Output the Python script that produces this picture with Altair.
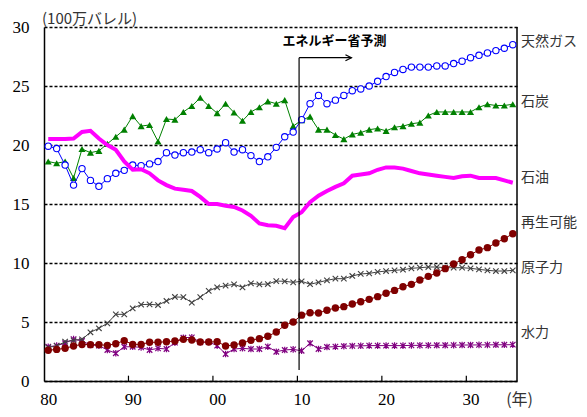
import altair as alt
import pandas as pd

years = list(range(1980, 2036))

gas = [19.9, 19.7, 18.3, 16.6, 18.0, 17.0, 16.5, 17.15, 17.6, 17.85,
       18.3, 18.25, 18.4, 18.6, 19.35, 19.15, 19.35, 19.4, 19.6, 19.35,
       19.66, 20.2, 19.4, 19.6, 19.1, 18.6, 19.0, 19.8, 20.7, 21.1,
       22.15, 23.5, 24.2, 23.5, 23.8, 24.2, 24.6, 24.75, 25.0, 25.4,
       25.8, 26.15, 26.4, 26.6, 26.6, 26.6, 26.7, 26.7, 26.9, 27.1,
       27.4, 27.6, 27.8, 28.0, 28.2, 28.5]
coal = [18.6, 18.45, 18.6, 17.2, 19.66, 19.35, 19.5, 20.1, 20.7, 21.3,
        22.45, 21.6, 21.7, 20.3, 22.2, 22.15, 22.8, 23.3, 24.0, 23.3,
        22.7, 23.5, 22.75, 22.05, 22.8, 23.2, 23.7, 23.5, 23.8, 21.6,
        22.1, 22.4, 21.3, 21.3, 20.85, 20.5, 20.9, 21.05, 21.3, 21.4,
        21.2, 21.5, 21.6, 21.8, 21.9, 22.5, 22.8, 22.8, 22.8, 22.8,
        22.8, 23.2, 23.45, 23.35, 23.35, 23.45]
oil = [20.5, 20.5, 20.5, 20.55, 21.1, 21.2, 20.55, 20.0, 19.6, 18.6,
       17.9, 17.95, 17.6, 17.0, 16.6, 16.3, 16.2, 16.1, 15.6, 15.0,
       15.0, 14.85, 14.75, 14.45, 14.0, 13.35, 13.2, 13.15, 12.95, 13.9,
       14.3, 15.15, 15.7, 16.1, 16.45, 16.75, 17.4, 17.5, 17.6, 17.9,
       18.1, 18.1, 18.0, 17.8, 17.6, 17.5, 17.4, 17.3, 17.2, 17.35,
       17.4, 17.2, 17.2, 17.2, 17.0, 16.8]
renew = [2.6, 2.68, 2.77, 2.97, 3.1, 3.08, 3.08, 3.02, 3.16, 3.42,
         3.1, 3.1, 3.28, 3.28, 3.33, 3.39, 3.53, 3.47, 3.3, 3.3,
         3.33, 2.97, 3.05, 3.22, 3.45, 3.59, 3.79, 4.15, 4.72, 5.0,
         5.58, 5.78, 5.76, 6.0, 6.19, 6.3, 6.53, 6.72, 6.92, 7.15,
         7.43, 7.68, 7.99, 8.19, 8.56, 8.87, 9.15, 9.52, 9.92, 10.28,
         10.7, 11.1, 11.3, 11.7, 12.06, 12.48]
nuclear = [2.85, 2.97, 3.33, 3.45, 3.53, 4.13, 4.47, 4.89, 5.65, 5.65,
           6.16, 6.47, 6.5, 6.44, 6.78, 7.12, 7.1, 6.64, 7.1, 7.63,
           7.94, 8.08, 8.19, 7.94, 8.28, 8.19, 8.22, 8.47, 8.45, 8.36,
           8.45, 8.2, 8.36, 8.53, 8.67, 8.67, 8.9, 9.07, 9.12, 9.24,
           9.32, 9.38, 9.43, 9.55, 9.6, 9.66, 9.66, 9.6, 9.6, 9.6,
           9.55, 9.46, 9.38, 9.32, 9.32, 9.38]
hydro = [2.9, 3.0, 3.2, 3.55, 3.39, 3.05, 3.0, 2.63, 2.35, 2.9,
         2.9, 2.85, 2.63, 2.77, 2.71, 3.25, 3.67, 3.7, 3.28, 3.3,
         3.0, 2.29, 2.71, 2.77, 2.71, 2.71, 2.91, 2.48, 2.63, 2.68,
         2.56, 3.2, 2.71, 2.88, 2.91, 2.95, 2.97, 2.98, 3.0, 3.0,
         3.0, 3.0, 3.0, 3.02, 3.02, 3.02, 3.03, 3.03, 3.04, 3.05,
         3.05, 3.06, 3.06, 3.07, 3.07, 3.08]

series_names = ["天然ガス", "石炭", "石油", "再生可能", "原子力", "水力"]
label_y = [28.75, 23.67, 17.2, 13.4, 9.58, 4.07]
x_tick_labels = [1980, 1990, 2000, 2010, 2020, 2030]
y_ticks = [0, 5, 10, 15, 20, 25, 30]

SERIF = "Liberation Serif"
JP = "Noto Sans CJK JP"

def frame(vals):
    return pd.DataFrame({"year": years, "value": vals})

X = alt.X("year:Q",
          scale=alt.Scale(domain=[1979.5, 2035.5], nice=False, zero=False),
          axis=alt.Axis(values=x_tick_labels,
                        labelExpr="slice(toString(datum.value), 2)",
                        tickSize=0, grid=False, title=None,
                        domainColor="black", domainWidth=1.5,
                        labelFont=SERIF, labelFontSize=17, labelColor="black",
                        labelPadding=10, labelFlush=False))
Y = alt.Y("value:Q",
          scale=alt.Scale(domain=[0, 30], nice=False, zero=False),
          axis=alt.Axis(values=y_ticks, grid=True, gridDash=[3, 2],
                        gridColor="black", gridWidth=1.5, gridOpacity=1,
                        tickSize=0, title=None, domainColor="black",
                        domainWidth=1.5, labelFont=SERIF, labelFontSize=17,
                        labelColor="black", labelPadding=15))

layers = []

# right border
border = alt.Chart(pd.DataFrame({"year": [2035.5], "value": [0], "v2": [30]})).mark_rule(
    color="black", strokeWidth=1.5).encode(x=X, y=Y, y2="v2:Q")
layers.append(border)

# inward ticks
ticks = alt.Chart(pd.DataFrame({"year": [1989.5, 1999.5, 2009.5, 2019.5, 2029.5],
                                "value": [0] * 5, "v2": [0.45] * 5})).mark_rule(
    color="black", strokeWidth=1.2).encode(x=X, y=Y, y2="v2:Q")
layers.append(ticks)

def line(vals, color, width=1):
    return alt.Chart(frame(vals)).mark_line(color=color, strokeWidth=width).encode(x=X, y=Y)

def pts(vals, **kw):
    return alt.Chart(frame(vals)).mark_point(**kw).encode(x=X, y=Y)

X_PATH = "M-1,-1L1,1M-1,1L1,-1"
AST_PATH = "M-1,-1L1,1M-1,1L1,-1M0,-1.2L0,1.2"

layers += [
    line(hydro, "#800080"),
    pts(hydro, shape=AST_PATH, filled=False, color="#800080", size=30, strokeWidth=1.2, opacity=1),
    line(nuclear, "#404040"),
    pts(nuclear, shape=X_PATH, filled=False, color="#404040", size=30, strokeWidth=1.1, opacity=1),
    line(renew, "#800000"),
    pts(renew, shape="circle", filled=True, color="#800000", size=55, opacity=1),
    line(coal, "#008000"),
    pts(coal, shape="triangle-up", filled=True, color="#008000", size=50, opacity=1),
    line(gas, "#0000FF"),
    pts(gas, shape="circle", filled=True, fill="white", stroke="#0000FF", size=40,
        strokeWidth=1.1, opacity=1),
    line(oil, "#FF00FF", 4),
]

# forecast marker
vline = alt.Chart(pd.DataFrame({"year": [2009.7], "value": [0.93], "v2": [27.4]})).mark_rule(
    color="black", strokeWidth=1.2).encode(x=X, y=Y, y2="v2:Q")
hline = alt.Chart(pd.DataFrame({"year": [2009.7], "y2x": [2015.9], "value": [27.4]})).mark_rule(
    color="black", strokeWidth=1.2).encode(x=X, x2="y2x:Q", y=Y)
head = alt.Chart(pd.DataFrame({"year": [2015.9], "value": [27.4]})).mark_point(
    shape="M-1,-1L1,0L-1,1", filled=False, color="black", size=36, strokeWidth=1.2,
    opacity=1, xOffset=-3).encode(x=X, y=Y)
ftext = alt.Chart(pd.DataFrame({"year": [2013.9], "value": [28.84], "t": ["エネルギー省予測"]})).mark_text(
    font=JP, fontSize=13, fontWeight="bold", color="black", align="center",
    baseline="middle").encode(x=X, y=Y, text="t:N")
layers += [vline, hline, head, ftext]

# right-hand labels
lab = alt.Chart(pd.DataFrame({"year": [2035.5] * 6, "value": label_y, "t": series_names})).mark_text(
    font=JP, fontSize=14, color="#333333", align="left", baseline="middle", dx=4).encode(
    x=X, y=Y, text="t:N")
layers.append(lab)

# unit labels
unit = alt.Chart(pd.DataFrame({"year": [1979.5], "value": [30.68], "t": ["(100万バレル)"]})).mark_text(
    font=JP, fontSize=15, color="#333333", align="left", baseline="middle", dx=-2).encode(
    x=X, y=Y, text="t:N")
nen = alt.Chart(pd.DataFrame({"year": [2035.8], "value": [-1.65], "t": ["(年)"]})).mark_text(
    font=JP, fontSize=16, color="#333333", align="center", baseline="middle").encode(
    x=X, y=Y, text="t:N")
layers += [unit, nen]

chart = alt.layer(*layers).properties(
    width=473, height=354,
    autosize=alt.AutoSizeParams(type="none"),
    padding={"left": 36, "top": 19, "right": 62, "bottom": 28},
).configure_view(stroke=None)

chart.save("out.html", embed_options={"renderer": "svg", "actions": False})
